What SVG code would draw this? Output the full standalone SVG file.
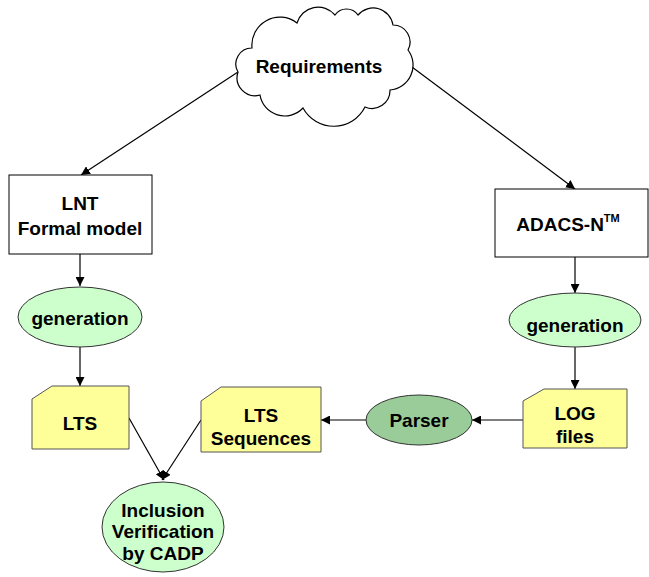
<svg xmlns="http://www.w3.org/2000/svg" width="649" height="577" viewBox="0 0 649 577">
<defs>
<style>
text{font-family:"Liberation Sans",Arial,sans-serif;font-weight:bold;font-size:19px;fill:#000;text-anchor:middle;dominant-baseline:central}
.box{fill:#fff;stroke:#000;stroke-width:1}
.doc{fill:#FFFF99;stroke:#555;stroke-width:1}
.gen{fill:#CCFFCC;stroke:#333;stroke-width:1}
.parser{fill:#99CC99;stroke:#333;stroke-width:1}
.cloud{fill:#fff;stroke:#000;stroke-width:1.2}
.edge{fill:none;stroke:#000;stroke-width:1.2;marker-end:url(#arr)}
</style>
<marker id="arr" viewBox="0 0 10 10" refX="10" refY="5" markerWidth="9" markerHeight="9" markerUnits="userSpaceOnUse" orient="auto">
<path d="M0,0 L10,5 L0,10 Z" fill="#000"/>
</marker>
</defs>
<g id="connectors">
<line class="edge" x1="238" y1="72" x2="81" y2="175"/>
<line class="edge" x1="408" y1="64" x2="575" y2="189"/>
<line class="edge" x1="80" y1="254" x2="80" y2="286"/>
<line class="edge" x1="80" y1="347" x2="80" y2="386"/>
<line class="edge" x1="575" y1="257" x2="575" y2="293"/>
<line class="edge" x1="575" y1="347" x2="575" y2="389"/>
<line class="edge" x1="523" y1="420" x2="472" y2="420"/>
<line class="edge" x1="366" y1="420" x2="321" y2="420"/>
<line class="edge" x1="129" y1="418" x2="164" y2="480"/>
<line class="edge" x1="201" y1="420" x2="162" y2="480"/>
</g>
<g id="requirements">
<path class="cloud" d="M238,72 A16,16 0 0 1 252,48 A28,28 0 0 1 297,23 A22,22 0 0 1 335,15 A14,14 0 0 1 358,15 A20,20 0 0 1 393,25 A17,17 0 0 1 408,50 A25,25 0 0 1 390,90 A18,18 0 0 1 365,107 A35,35 0 0 1 303,108 A25,25 0 0 1 260,95 A18,18 0 0 1 238,72 Z"/>
<text x="319" y="66">Requirements</text>
</g>
<g id="lnt">
<rect class="box" x="9" y="175" width="143" height="79"/>
<text x="80" y="203">LNT</text>
<text x="80" y="228">Formal model</text>
</g>
<g id="adacs">
<rect class="box" x="495" y="189" width="153" height="68"/>
<text x="568" y="224">ADACS-N<tspan font-size="11" dy="-6">TM</tspan></text>
</g>
<g id="generation-left">
<ellipse class="gen" cx="80" cy="317" rx="62" ry="30"/>
<text x="80" y="318">generation</text>
</g>
<g id="generation-right">
<ellipse class="gen" cx="575" cy="320" rx="66" ry="27"/>
<text x="575" y="325">generation</text>
</g>
<g id="lts">
<path class="doc" d="M52,386 L129,386 L129,449 L32,449 L32,399 Z"/>
<text x="80" y="423">LTS</text>
</g>
<g id="lts-sequences">
<path class="doc" d="M221,387 L321,387 L321,452 L201,452 L201,401 Z"/>
<text x="261" y="415">LTS</text>
<text x="261" y="438">Sequences</text>
</g>
<g id="parser">
<ellipse class="parser" cx="419" cy="420" rx="53" ry="25"/>
<text x="419" y="420">Parser</text>
</g>
<g id="log-files">
<path class="doc" d="M544,389 L627,389 L627,448 L523,448 L523,401 Z"/>
<text x="575" y="413">LOG</text>
<text x="575" y="436">files</text>
</g>
<g id="inclusion">
<ellipse class="gen" cx="163" cy="527" rx="61" ry="45"/>
<text x="163" y="510">Inclusion</text>
<text x="163" y="531">Verification</text>
<text x="163" y="553">by CADP</text>
</g>
</svg>
